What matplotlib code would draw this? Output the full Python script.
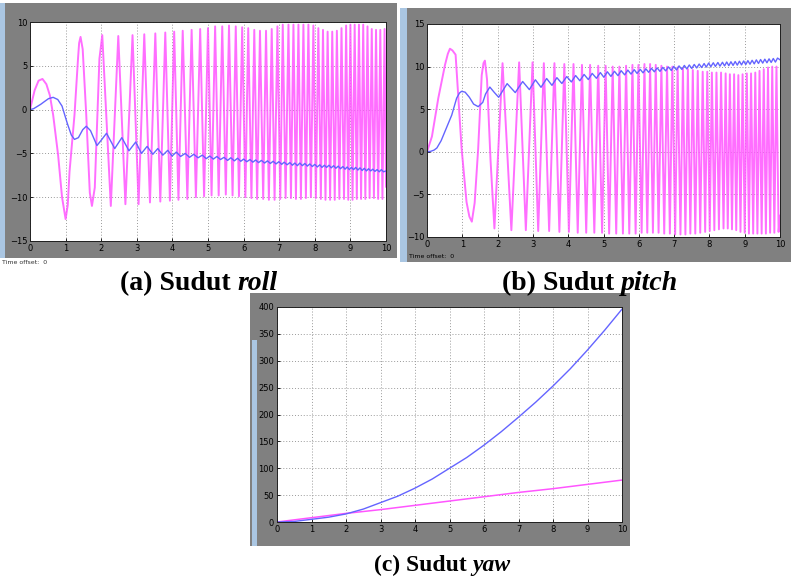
import numpy as np
import matplotlib
matplotlib.use("Agg")
import matplotlib.pyplot as plt
from matplotlib.patches import Rectangle

# ---- (a) roll: rate trace (magenta) extrema ----
roll_rate_peak_t = [0.35, 1.42, 2.03, 2.48, 2.88, 3.21, 3.52, 3.80, 4.05, 4.29,
                    4.54, 4.78, 5.00, 5.20, 5.40, 5.59, 5.78, 5.96, 6.13, 6.30,
                    6.46, 6.63, 6.79, 6.95, 7.10, 7.26, 7.40, 7.54, 7.68, 7.82,
                    7.96, 8.10, 8.23, 8.36, 8.49, 8.62, 8.75, 8.88, 9.00, 9.12,
                    9.24, 9.36, 9.48, 9.60, 9.72, 9.84, 9.96]
roll_rate_peak_v = [3.5, 8.3, 8.5, 8.4, 8.5, 8.6, 8.7, 8.8, 8.9, 9.0,
                    9.1, 9.2, 9.3, 9.5, 9.5, 9.6, 9.5, 9.4, 9.3, 9.1,
                    9.0, 9.0, 9.2, 9.5, 9.7, 9.7, 9.7, 9.7, 9.7, 9.7,
                    9.6, 9.3, 9.1, 8.9, 8.9, 9.0, 9.3, 9.6, 9.7, 9.7,
                    9.7, 9.7, 9.5, 9.2, 9.1, 9.1, 9.2]
roll_rate_trough_t = [1.00, 1.74, 2.27, 2.68, 3.05, 3.37, 3.66, 3.93, 4.17, 4.42,
                      4.66, 4.89, 5.10, 5.30, 5.50, 5.69, 5.87, 6.05, 6.22, 6.38,
                      6.55, 6.71, 6.87, 7.03, 7.18, 7.33, 7.47, 7.61, 7.75, 7.89,
                      8.03, 8.17, 8.30, 8.43, 8.56, 8.69, 8.82, 8.94, 9.06, 9.18,
                      9.30, 9.42, 9.54, 9.66, 9.78, 9.90]
roll_rate_trough_v = [-12.5, -11.0, -11.0, -10.8, -10.8, -10.6, -10.5, -10.4, -10.3, -10.2,
                      -10.0, -9.9, -9.8, -9.8, -9.7, -9.8, -9.9, -10.0, -10.1, -10.2,
                      -10.2, -10.3, -10.3, -10.2, -10.1, -10.1, -10.2, -10.2, -10.1, -10.0,
                      -10.1, -10.2, -10.3, -10.3, -10.3, -10.2, -10.2, -10.3, -10.3, -10.2,
                      -10.2, -10.2, -10.1, -10.1, -10.2, -10.2]
# shoulder points along the first slow swings
roll_rate_extra_t = [0.0, 0.13, 0.24, 0.46, 0.56, 0.65, 0.79, 0.90, 1.06, 1.11, 1.25,
                     1.35, 1.38, 1.48, 1.58, 1.68, 1.82, 1.95, 10.0]
roll_rate_extra_v = [0.0, 2.2, 3.3, 2.9, 1.6, -0.6, -5.2, -10.0, -10.9, -7.1, -0.6,
                     5.9, 7.6, 6.9, -0.6, -9.5, -8.9, 5.8, -8.8]

# ---- (a) roll: angle trace (blue) extrema ----
roll_ang_max_t = [0.65, 1.58, 2.15, 2.58, 2.97, 3.29, 3.59, 3.87, 4.11, 4.36,
                  4.60, 4.84, 5.05, 5.25, 5.45, 5.64, 5.83, 6.00, 6.18, 6.34,
                  6.50, 6.67, 6.83, 6.99, 7.14, 7.30, 7.44, 7.58, 7.72, 7.86,
                  8.00, 8.14, 8.27, 8.40, 8.53, 8.66, 8.79, 8.91, 9.03, 9.15,
                  9.27, 9.39, 9.51, 9.63, 9.75, 9.87]
roll_ang_max_v = [1.4, -1.9, -2.7, -3.2, -3.7, -4.2, -4.45, -4.65, -4.85, -5.0,
                  -5.1, -5.2, -5.3, -5.35, -5.45, -5.5, -5.55, -5.65, -5.7, -5.75,
                  -5.8, -5.85, -5.9, -5.95, -6.0, -6.05, -6.1, -6.1, -6.15, -6.2,
                  -6.25, -6.3, -6.35, -6.35, -6.4, -6.45, -6.5, -6.55, -6.6, -6.6,
                  -6.65, -6.7, -6.75, -6.8, -6.85, -6.85]
roll_ang_min_t = [1.25, 1.88, 2.38, 2.78, 3.13, 3.45, 3.73, 3.99, 4.23, 4.48,
                  4.72, 4.95, 5.15, 5.35, 5.55, 5.74, 5.92, 6.09, 6.26, 6.42,
                  6.59, 6.75, 6.91, 7.07, 7.22, 7.37, 7.51, 7.65, 7.79, 7.93,
                  8.07, 8.20, 8.33, 8.46, 8.59, 8.72, 8.85, 8.97, 9.09, 9.21,
                  9.33, 9.45, 9.57, 9.69, 9.81, 9.93]
roll_ang_min_v = [-3.4, -4.1, -4.45, -4.7, -5.0, -5.1, -5.2, -5.3, -5.35, -5.45,
                  -5.5, -5.6, -5.65, -5.7, -5.8, -5.85, -5.9, -5.95, -6.0, -6.05,
                  -6.1, -6.15, -6.2, -6.25, -6.3, -6.35, -6.4, -6.4, -6.45, -6.5,
                  -6.55, -6.6, -6.6, -6.65, -6.7, -6.75, -6.8, -6.85, -6.85, -6.9,
                  -6.95, -7.0, -7.0, -7.05, -7.1, -7.1]
roll_ang_extra_t = [0.0, 0.1, 0.2, 0.3, 0.4, 0.52, 0.78, 0.9, 1.05, 1.16,
                    1.36, 1.48, 1.70, 2.0, 10.0]
roll_ang_extra_v = [0.0, 0.1, 0.35, 0.6, 0.9, 1.25, 1.15, 0.4, -1.6, -2.9,
                    -3.2, -2.3, -2.4, -3.5, -7.0]

# ---- (b) pitch: rate trace (magenta) extrema ----
pitch_rate_peak_t = [0.65, 1.64, 2.14, 2.61, 2.99, 3.31, 3.61, 3.89, 4.15, 4.39,
                     4.62, 4.85, 5.06, 5.26, 5.45, 5.64, 5.82, 5.99, 6.16, 6.32,
                     6.48, 6.64, 6.80, 6.95, 7.10, 7.25, 7.39, 7.53, 7.67, 7.81,
                     7.94, 8.07, 8.20, 8.33, 8.46, 8.58, 8.70, 8.82, 8.94, 9.06,
                     9.18, 9.30, 9.42, 9.54, 9.66, 9.78, 9.90]
pitch_rate_peak_v = [12.1, 10.7, 10.4, 10.5, 10.5, 10.4, 10.4, 10.3, 10.3, 10.2,
                     10.2, 10.1, 10.1, 10.0, 10.0, 10.1, 10.2, 10.2, 10.3, 10.3,
                     10.2, 10.1, 10.0, 10.0, 9.9, 9.8, 9.7, 9.6, 9.5, 9.4,
                     9.4, 9.3, 9.3, 9.3, 9.2, 9.1, 9.1, 9.0, 9.1, 9.2,
                     9.2, 9.3, 9.5, 9.7, 9.9, 10.0, 10.0]
pitch_rate_trough_t = [1.27, 1.91, 2.39, 2.80, 3.15, 3.46, 3.75, 4.02, 4.27, 4.51,
                       4.74, 4.96, 5.16, 5.36, 5.55, 5.73, 5.91, 6.08, 6.24, 6.40,
                       6.56, 6.72, 6.88, 7.03, 7.18, 7.32, 7.46, 7.60, 7.74, 7.88,
                       8.01, 8.14, 8.27, 8.40, 8.52, 8.64, 8.76, 8.88, 9.00, 9.12,
                       9.24, 9.36, 9.48, 9.60, 9.72, 9.84, 9.96]
pitch_rate_trough_v = [-8.2, -9.0, -9.2, -9.2, -9.3, -9.3, -9.4, -9.4, -9.5, -9.5,
                       -9.5, -9.5, -9.6, -9.6, -9.6, -9.6, -9.6, -9.5, -9.5, -9.5,
                       -9.5, -9.6, -9.6, -9.7, -9.7, -9.7, -9.6, -9.6, -9.5, -9.4,
                       -9.3, -9.2, -9.1, -9.0, -9.0, -9.1, -9.2, -9.4, -9.5, -9.6,
                       -9.6, -9.6, -9.6, -9.6, -9.5, -9.5, -9.4]
pitch_rate_extra_t = [0.0, 0.14, 0.32, 0.51, 0.59, 0.72, 0.81, 0.98, 1.12, 1.20, 1.35,
                      1.45, 1.55, 1.60, 1.70, 1.80, 10.0]
pitch_rate_extra_v = [0.0, 1.8, 6.3, 10.2, 11.5, 11.9, 11.4, 0.4, -5.9, -7.6, -6.0,
                      0.4, 9.0, 10.4, 8.5, -1.0, -7.5]

# ---- (b) pitch: angle trace (blue) extrema ----
pitch_ang_max_t = [0.98, 1.78, 2.27, 2.71, 3.07, 3.39, 3.68, 3.96, 4.21, 4.45,
                   4.68, 4.91, 5.11, 5.31, 5.50, 5.69, 5.87, 6.04, 6.20, 6.36,
                   6.52, 6.68, 6.84, 6.99, 7.14, 7.29, 7.43, 7.57, 7.71, 7.85,
                   7.98, 8.11, 8.24, 8.37, 8.49, 8.61, 8.73, 8.85, 8.97, 9.09,
                   9.21, 9.33, 9.45, 9.57, 9.69, 9.81, 9.93]
pitch_ang_max_v = [7.1, 7.6, 8.0, 8.25, 8.45, 8.6, 8.7, 8.83, 8.95, 9.08,
                   9.2, 9.3, 9.39, 9.45, 9.52, 9.59, 9.64, 9.68, 9.74, 9.8,
                   9.85, 9.91, 9.96, 10.02, 10.08, 10.14, 10.19, 10.25, 10.3, 10.36,
                   10.42, 10.45, 10.48, 10.51, 10.54, 10.57, 10.6, 10.63, 10.66, 10.7,
                   10.74, 10.79, 10.83, 10.87, 10.91, 10.95, 11.0]
pitch_ang_min_t = [1.45, 2.03, 2.50, 2.90, 3.23, 3.54, 3.82, 4.09, 4.33, 4.57,
                   4.80, 5.01, 5.21, 5.41, 5.60, 5.78, 5.95, 6.12, 6.28, 6.44,
                   6.60, 6.76, 6.92, 7.07, 7.22, 7.36, 7.50, 7.64, 7.78, 7.91,
                   8.04, 8.17, 8.30, 8.43, 8.55, 8.67, 8.79, 8.91, 9.03, 9.15,
                   9.27, 9.39, 9.51, 9.63, 9.75, 9.87]
pitch_ang_min_v = [5.3, 6.4, 6.95, 7.3, 7.57, 7.8, 8.02, 8.2, 8.34, 8.48,
                   8.63, 8.75, 8.85, 8.94, 9.03, 9.12, 9.2, 9.27, 9.33, 9.39,
                   9.44, 9.5, 9.55, 9.61, 9.67, 9.73, 9.78, 9.84, 9.89, 9.94,
                   9.99, 10.02, 10.05, 10.08, 10.11, 10.14, 10.17, 10.2, 10.24, 10.28,
                   10.32, 10.37, 10.41, 10.45, 10.49, 10.53]
pitch_ang_extra_t = [0.0, 0.1, 0.2, 0.28, 0.4, 0.51, 0.60, 0.70, 0.84, 0.92, 1.08,
                     1.20, 1.32, 1.58, 1.66, 1.90, 10.0]
pitch_ang_extra_v = [0.0, 0.05, 0.2, 0.45, 1.3, 2.4, 3.3, 4.3, 6.3, 6.9, 7.0,
                     6.4, 5.6, 5.8, 6.8, 7.0, 10.8]

# ---- (c) yaw ----
yaw_t = [0, 0.5, 1, 1.5, 2, 2.5, 3, 3.5, 4, 4.5, 5, 5.5, 6, 6.5, 7, 7.5, 8, 8.5, 9, 9.5, 10]
yaw_angle = [0, 1, 5, 9, 15, 24, 36, 48, 63, 80, 100, 120, 143, 168, 195, 223,
             253, 285, 320, 357, 396]
yaw_rate = [0, 4, 8, 12, 16, 19.5, 23, 27, 31, 35, 39, 43, 47, 51, 55, 58.5,
            62, 66, 70, 74, 78]

MAGENTA = "#ff55ff"
BLUE = "#6464ff"
FRAME = "#808080"
STRIP = "#aac6e2"

W, H = 791, 576


def trace(*pairs):
    t = np.concatenate([np.asarray(p[0], float) for p in pairs])
    v = np.concatenate([np.asarray(p[1], float) for p in pairs])
    order = np.argsort(t, kind="stable")
    return t[order], v[order]


def px_rect(fig, l, t, r, b, color, z=-5):
    fig.add_artist(Rectangle((l / W, 1 - b / H), (r - l) / W, (b - t) / H,
                             transform=fig.transFigure, facecolor=color,
                             edgecolor="none", zorder=z))


def scope_axes(fig, l, t, r, b, ylim, yticks):
    ax = fig.add_axes([l / W, 1 - b / H, (r - l) / W, (b - t) / H])
    ax.set_facecolor("white")
    ax.set_xlim(0, 10)
    ax.set_ylim(*ylim)
    ax.set_xticks(range(11))
    ax.set_yticks(yticks)
    ax.grid(True, linestyle=(0, (1, 2)), color="#9a9a9a", linewidth=0.7)
    ax.tick_params(direction="in", length=2, width=0.6, labelsize=6,
                   colors="black", pad=2)
    for s in ax.spines.values():
        s.set_linewidth(0.7)
        s.set_color("#202020")
    return ax


fig = plt.figure(figsize=(W / 100, H / 100), dpi=100)
fig.patch.set_facecolor("white")

# frames and side strips
px_rect(fig, 0, 3, 5, 258, STRIP)
px_rect(fig, 5, 3, 397, 258, FRAME)
px_rect(fig, 400, 8, 407, 262, STRIP)
px_rect(fig, 407, 8, 791, 262, FRAME)
px_rect(fig, 250, 293, 630, 546, FRAME)
px_rect(fig, 252, 340, 257, 546, STRIP)

# (a) roll
ax_a = scope_axes(fig, 30, 22, 386, 241, (-15, 10), range(-15, 11, 5))
t, v = trace((roll_rate_peak_t, roll_rate_peak_v),
             (roll_rate_trough_t, roll_rate_trough_v),
             (roll_rate_extra_t, roll_rate_extra_v))
ax_a.plot(t, v, color=MAGENTA, lw=1.4, alpha=0.85)
t, v = trace((roll_ang_max_t, roll_ang_max_v),
             (roll_ang_min_t, roll_ang_min_v),
             (roll_ang_extra_t, roll_ang_extra_v))
ax_a.plot(t, v, color=BLUE, lw=1.0)

# (b) pitch
ax_b = scope_axes(fig, 427, 24, 780, 237, (-10, 15), range(-10, 16, 5))
t, v = trace((pitch_rate_peak_t, pitch_rate_peak_v),
             (pitch_rate_trough_t, pitch_rate_trough_v),
             (pitch_rate_extra_t, pitch_rate_extra_v))
ax_b.plot(t, v, color=MAGENTA, lw=1.4, alpha=0.85)
t, v = trace((pitch_ang_max_t, pitch_ang_max_v),
             (pitch_ang_min_t, pitch_ang_min_v),
             (pitch_ang_extra_t, pitch_ang_extra_v))
ax_b.plot(t, v, color=BLUE, lw=1.0)

# (c) yaw
ax_c = scope_axes(fig, 277, 307, 622, 522, (0, 400), range(0, 401, 50))
ax_c.plot(yaw_t, yaw_rate, color=MAGENTA, lw=1.1)
ax_c.plot(yaw_t, yaw_angle, color=BLUE, lw=1.0)

fig.text(409 / W, 1 - 257 / H, "Time offset:  0", fontsize=4.5, va="center")
fig.text(2 / W, 1 - 262 / H, "Time offset:  0", fontsize=4.5, va="center",
         color="#333333")

# captions: bold serif, angle name in italics
renderer = fig.canvas.get_renderer()


def caption(cx, base, head, word, size):
    cap = dict(family="Liberation Serif", weight="bold", fontsize=size,
               va="baseline")
    t1 = fig.text(0, 1 - base / H, head, **cap)
    t2 = fig.text(0, 1 - base / H, word, style="italic", **cap)
    w1 = t1.get_window_extent(renderer).width
    w2 = t2.get_window_extent(renderer).width
    x0 = cx - (w1 + w2) / 2
    t1.set_x(x0 / W)
    t2.set_x((x0 + w1) / W)


caption(199, 290, "(a) Sudut ", "roll", 20)
caption(590, 290, "(b) Sudut ", "pitch", 20)
caption(442, 571, "(c) Sudut ", "yaw", 17)

fig.savefig("out.png", dpi=100)
